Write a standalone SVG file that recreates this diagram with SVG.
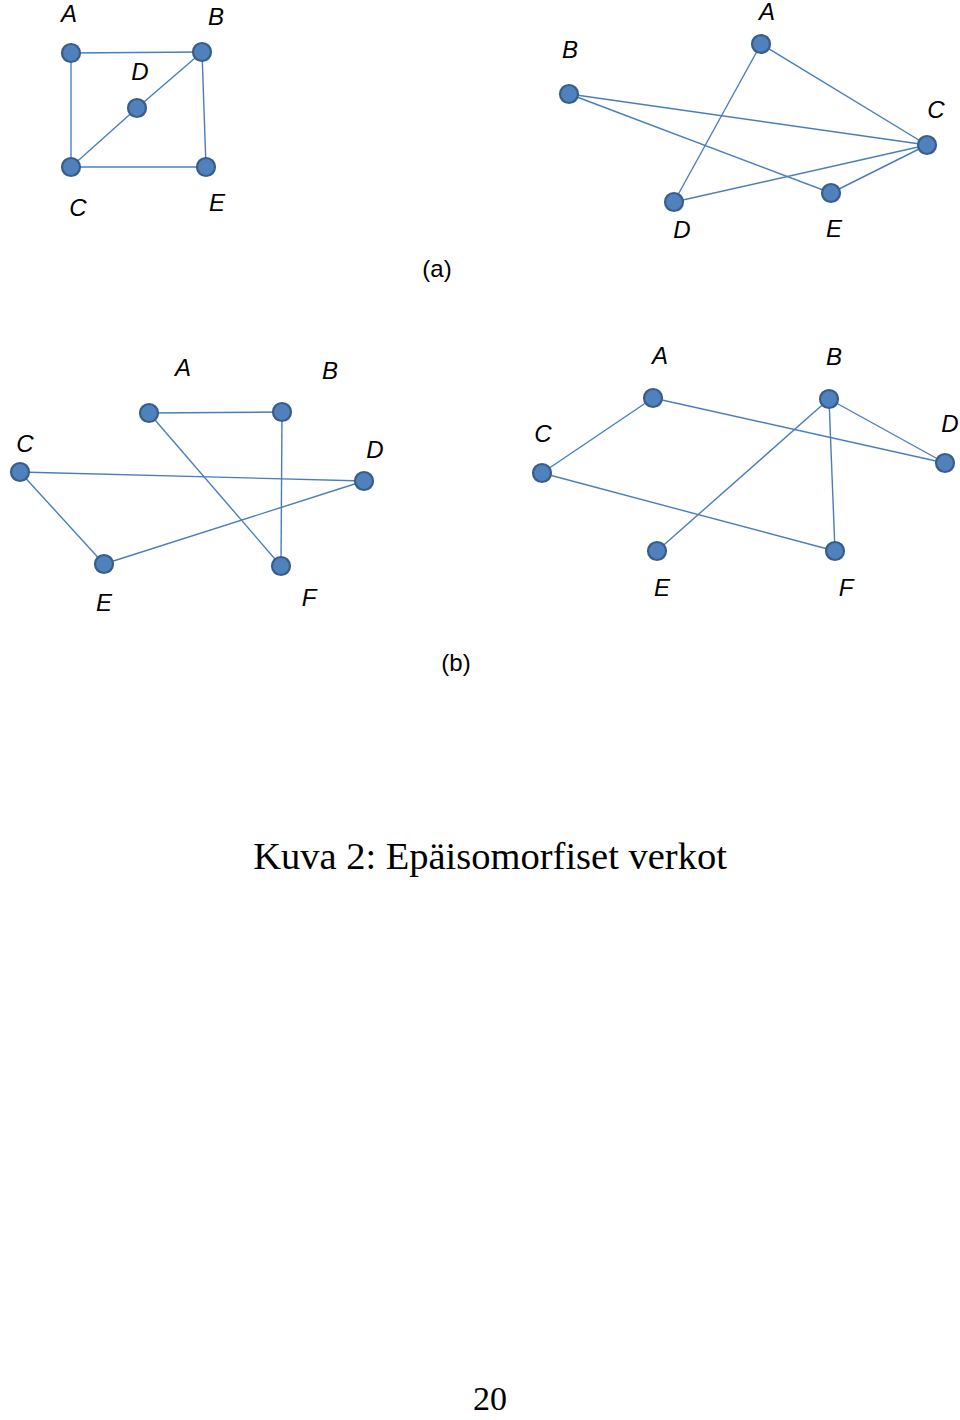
<svg xmlns="http://www.w3.org/2000/svg" width="960" height="1420" viewBox="0 0 960 1420">
<style>
.e{stroke:#4A7EBB;stroke-width:1.4;fill:none}
.n{fill:#4F81BD;stroke:#385D8A;stroke-width:2.2}
.l{font-family:"Liberation Sans",Arial,sans-serif;font-style:italic;font-size:24px;fill:#000;text-anchor:middle}
.s{font-family:"Liberation Sans",Arial,sans-serif;font-size:24px;fill:#000;text-anchor:middle}
.c{font-family:"Liberation Serif","Times New Roman",serif;font-size:38.5px;fill:#000;text-anchor:middle}
</style>
<rect width="960" height="1420" fill="#fff"/>
<g id="connectors">
<line class="e" x1="71" y1="53" x2="202" y2="52"/>
<line class="e" x1="71" y1="53" x2="71" y2="167"/>
<line class="e" x1="202" y1="52" x2="137" y2="108"/>
<line class="e" x1="137" y1="108" x2="71" y2="167"/>
<line class="e" x1="202" y1="52" x2="206" y2="167"/>
<line class="e" x1="71" y1="167" x2="206" y2="167"/>
<line class="e" x1="569" y1="94" x2="927" y2="145"/>
<line class="e" x1="569" y1="94" x2="831" y2="193"/>
<line class="e" x1="761" y1="44" x2="674" y2="202"/>
<line class="e" x1="761" y1="44" x2="927" y2="145"/>
<line class="e" x1="674" y1="202" x2="927" y2="145"/>
<line class="e" x1="831" y1="193" x2="927" y2="145"/>
<line class="e" x1="149" y1="413" x2="282" y2="412"/>
<line class="e" x1="149" y1="413" x2="281" y2="566"/>
<line class="e" x1="282" y1="412" x2="281" y2="566"/>
<line class="e" x1="20" y1="472" x2="364" y2="481"/>
<line class="e" x1="20" y1="472" x2="104" y2="564"/>
<line class="e" x1="104" y1="564" x2="364" y2="481"/>
<line class="e" x1="542" y1="473" x2="653" y2="398"/>
<line class="e" x1="653" y1="398" x2="945" y2="463"/>
<line class="e" x1="829" y1="399" x2="945" y2="463"/>
<line class="e" x1="829" y1="399" x2="657" y2="551"/>
<line class="e" x1="829" y1="399" x2="835" y2="551"/>
<line class="e" x1="542" y1="473" x2="835" y2="551"/>
</g>
<g id="a1-A"><circle class="n" cx="71" cy="53" r="9"/><text class="l" x="69" y="22">A</text></g>
<g id="a1-B"><circle class="n" cx="202" cy="52" r="9"/><text class="l" x="216" y="25">B</text></g>
<g id="a1-D"><circle class="n" cx="137" cy="108" r="9"/><text class="l" x="140" y="80">D</text></g>
<g id="a1-C"><circle class="n" cx="71" cy="167" r="9"/><text class="l" x="78" y="216">C</text></g>
<g id="a1-E"><circle class="n" cx="206" cy="167" r="9"/><text class="l" x="217" y="211">E</text></g>
<g id="a2-A"><circle class="n" cx="761" cy="44" r="9"/><text class="l" x="767" y="20">A</text></g>
<g id="a2-B"><circle class="n" cx="569" cy="94" r="9"/><text class="l" x="570" y="58">B</text></g>
<g id="a2-C"><circle class="n" cx="927" cy="145" r="9"/><text class="l" x="936" y="118">C</text></g>
<g id="a2-D"><circle class="n" cx="674" cy="202" r="9"/><text class="l" x="682" y="238">D</text></g>
<g id="a2-E"><circle class="n" cx="831" cy="193" r="9"/><text class="l" x="834" y="237">E</text></g>
<g id="b1-A"><circle class="n" cx="149" cy="413" r="9"/><text class="l" x="183" y="376">A</text></g>
<g id="b1-B"><circle class="n" cx="282" cy="412" r="9"/><text class="l" x="330" y="379">B</text></g>
<g id="b1-C"><circle class="n" cx="20" cy="472" r="9"/><text class="l" x="25" y="452">C</text></g>
<g id="b1-D"><circle class="n" cx="364" cy="481" r="9"/><text class="l" x="375" y="458">D</text></g>
<g id="b1-E"><circle class="n" cx="104" cy="564" r="9"/><text class="l" x="104" y="611">E</text></g>
<g id="b1-F"><circle class="n" cx="281" cy="566" r="9"/><text class="l" x="309" y="606">F</text></g>
<g id="b2-A"><circle class="n" cx="653" cy="398" r="9"/><text class="l" x="660" y="364">A</text></g>
<g id="b2-B"><circle class="n" cx="829" cy="399" r="9"/><text class="l" x="834" y="365">B</text></g>
<g id="b2-C"><circle class="n" cx="542" cy="473" r="9"/><text class="l" x="543" y="442">C</text></g>
<g id="b2-D"><circle class="n" cx="945" cy="463" r="9"/><text class="l" x="950" y="432">D</text></g>
<g id="b2-E"><circle class="n" cx="657" cy="551" r="9"/><text class="l" x="662" y="596">E</text></g>
<g id="b2-F"><circle class="n" cx="835" cy="551" r="9"/><text class="l" x="846" y="596">F</text></g>
<text class="s" x="437" y="277">(a)</text>
<text class="s" x="456" y="671">(b)</text>
<text class="c" x="490" y="869">Kuva 2: Epäisomorfiset verkot</text>
<text class="c" x="490" y="1410" style="font-size:34px">20</text>
</svg>
